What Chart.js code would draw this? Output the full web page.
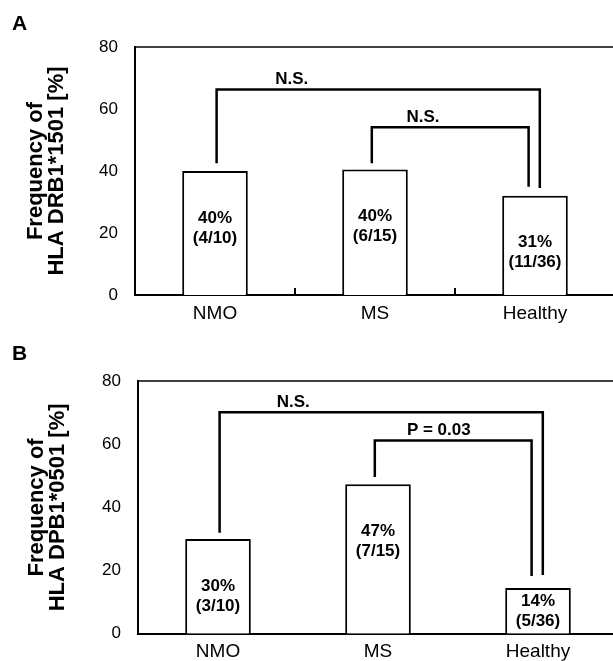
<!DOCTYPE html>
<html>
<head>
<meta charset="utf-8">
<script src="https://cdn.jsdelivr.net/npm/chart.js@4.4.0/dist/chart.umd.min.js"></script>
<style>
  html, body { margin: 0; padding: 0; background: #fff; overflow: hidden; }
  #wrap { position: relative; width: 613px; height: 661px; overflow: hidden; }
  canvas { position: absolute; left: 0; }
  #chartA { top: 0; }
  #chartB { top: 330px; }
</style>
</head>
<body>
<div id="wrap">
  <canvas id="chartA" width="615" height="330"></canvas>
  <canvas id="chartB" width="618" height="331"></canvas>
</div>
<script>
const groups = ['NMO', 'MS', 'Healthy'];
const yTicks = [0, 20, 40, 60, 80];

// panel A - HLA DRB1*1501
const drbValues = [40, 40.5, 32];
const drbPercent = ['40%', '40%', '31%'];
const drbCounts = ['(4/10)', '(6/15)', '(11/36)'];

// panel B - HLA DPB1*0501
const dpbValues = [30, 47.3, 14.5];
const dpbPercent = ['30%', '47%', '14%'];
const dpbCounts = ['(3/10)', '(7/15)', '(5/36)'];

// significance brackets (category positions, y levels, label)
const drbBrackets = [
    { from: 0.01, to: 2.03, level: 66.3, fromEnd: 42.5, toEnd: 34.5, text: 'N.S.', textAt: 0.48 },
    { from: 0.98, to: 1.96, level: 54.1, fromEnd: 42.5, toEnd: 34.9, text: 'N.S.', textAt: 1.3 }
];
const dpbBrackets = [
    { from: 0.01, to: 2.03, level: 70.1, fromEnd: 32, toEnd: 18.6, text: 'N.S.', textAt: 0.47 },
    { from: 0.98, to: 1.96, level: 61.2, fromEnd: 49.6, toEnd: 18.3, text: 'P = 0.03', textAt: 1.38 }
];

const FONT = '"Liberation Sans", Arial, Helvetica, sans-serif';

function annotations(letter, percent, counts, brackets, innerTicks) {
    return {
        id: 'annotations',
        afterDatasetsDraw(chart) {
            const ctx = chart.ctx;
            const x = chart.scales.x;
            const y = chart.scales.y;
            const area = chart.chartArea;

            ctx.save();
            ctx.strokeStyle = '#000';
            ctx.fillStyle = '#000';

            // top frame line
            ctx.lineWidth = 1.5;
            ctx.beginPath();
            ctx.moveTo(area.left, area.top);
            ctx.lineTo(area.right, area.top);
            ctx.stroke();

            // small inward ticks between the groups
            if (innerTicks) {
                ctx.lineWidth = 2;
                [0.5, 1.5].forEach(v => {
                    const px = x.getPixelForValue(v);
                    ctx.beginPath();
                    ctx.moveTo(px, area.bottom);
                    ctx.lineTo(px, area.bottom - 7);
                    ctx.stroke();
                });
            }

            ctx.font = 'bold 17px ' + FONT;
            ctx.textAlign = 'center';
            ctx.textBaseline = 'middle';

            ctx.lineWidth = 2.5;
            brackets.forEach(b => {
                const x1 = x.getPixelForValue(b.from);
                const x2 = x.getPixelForValue(b.to);
                const yl = y.getPixelForValue(b.level);
                ctx.beginPath();
                ctx.moveTo(x1, y.getPixelForValue(b.fromEnd));
                ctx.lineTo(x1, yl);
                ctx.lineTo(x2, yl);
                ctx.lineTo(x2, y.getPixelForValue(b.toEnd));
                ctx.stroke();
                ctx.fillText(b.text, x.getPixelForValue(b.textAt), yl - 10);
            });

            // labels inside the bars
            chart.getDatasetMeta(0).data.forEach((bar, i) => {
                const c = Math.min(bar.y + 57, bar.base - 22);
                ctx.fillText(percent[i], bar.x, c - 10);
                ctx.fillText(counts[i], bar.x, c + 10);
            });

            // panel letter
            ctx.font = 'bold 21px ' + FONT;
            ctx.textAlign = 'left';
            ctx.fillText(letter, 12, 24);
            ctx.restore();
        }
    };
}

function makePanel(id, letter, title, values, percent, counts, brackets, layout) {
    return new Chart(document.getElementById(id), {
        type: 'bar',
        data: {
            labels: groups,
            datasets: [{
                data: values,
                backgroundColor: '#fff',
                borderColor: '#000',
                borderWidth: 2,
                barPercentage: 0.41,
                categoryPercentage: 1
            }]
        },
        options: {
            responsive: false,
            animation: false,
            layout: { padding: { top: layout.top, left: 0, right: 0, bottom: 0 } },
            plugins: {
                legend: { display: false },
                tooltip: { enabled: false }
            },
            scales: {
                x: {
                    grid: { display: false, drawTicks: false },
                    border: { display: true, color: '#000', width: 2 },
                    ticks: { color: '#000', font: { family: FONT, size: 19 }, padding: 7 },
                    afterFit: s => { s.height = layout.xHeight; }
                },
                y: {
                    min: 0,
                    max: 80,
                    afterBuildTicks: s => { s.ticks = yTicks.map(v => ({ value: v })); },
                    grid: { display: false, drawTicks: false },
                    border: { display: true, color: '#000', width: 2 },
                    ticks: { color: '#000', font: { family: FONT, size: 17 }, padding: 17 },
                    title: {
                        display: true,
                        text: title,
                        color: '#000',
                        font: { family: FONT, size: 22, weight: 'bold', lineHeight: 0.97 },
                        padding: { top: layout.titlePad, bottom: 0 }
                    },
                    afterFit: s => { s.width = layout.axisLeft; }
                }
            }
        },
        plugins: [annotations(letter, percent, counts, brackets, layout.innerTicks)]
    });
}

makePanel('chartA', 'A', ['Frequency of', 'HLA DRB1*1501 [%]'],
    drbValues, drbPercent, drbCounts, drbBrackets,
    { top: 47, xHeight: 35, axisLeft: 135, titlePad: 25, innerTicks: true });

makePanel('chartB', 'B', ['Frequency of', 'HLA DPB1*0501 [%]'],
    dpbValues, dpbPercent, dpbCounts, dpbBrackets,
    { top: 51, xHeight: 27, axisLeft: 138, titlePad: 26, innerTicks: false });
</script>
</body>
</html>
